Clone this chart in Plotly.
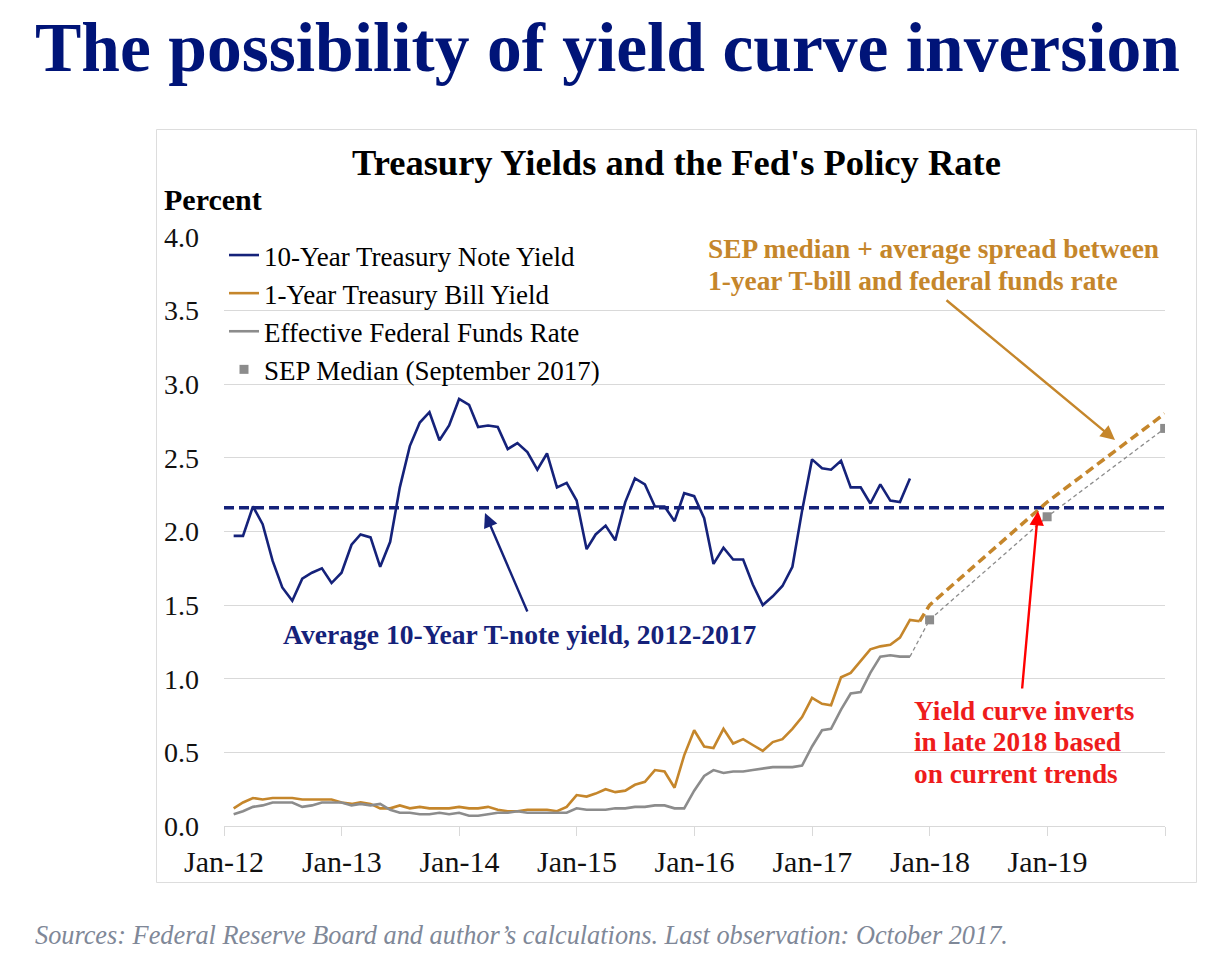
import numpy as np
import pandas as pd
import plotly.graph_objects as go

# ---------------- data ----------------
ten_year = [1.97, 1.97, 2.17, 2.05, 1.80, 1.62, 1.53, 1.68, 1.72, 1.75, 1.65, 1.72,
            1.91, 1.98, 1.96, 1.76, 1.93, 2.30, 2.58, 2.74, 2.81, 2.62, 2.72, 2.90,
            2.86, 2.71, 2.72, 2.71, 2.56, 2.60, 2.54, 2.42, 2.53, 2.30, 2.33, 2.21,
            1.88, 1.98, 2.04, 1.94, 2.20, 2.36, 2.32, 2.17, 2.17, 2.07, 2.26, 2.24,
            2.09, 1.78, 1.89, 1.81, 1.81, 1.64, 1.50, 1.56, 1.63, 1.76, 2.14, 2.49,
            2.43, 2.42, 2.48, 2.30, 2.30, 2.19, 2.32, 2.21, 2.20, 2.36]
one_year = [0.12, 0.16, 0.19, 0.18, 0.19, 0.19, 0.19, 0.18, 0.18, 0.18, 0.18, 0.16,
            0.15, 0.16, 0.15, 0.12, 0.12, 0.14, 0.12, 0.13, 0.12, 0.12, 0.12, 0.13,
            0.12, 0.12, 0.13, 0.11, 0.10, 0.10, 0.11, 0.11, 0.11, 0.10, 0.13, 0.21,
            0.20, 0.22, 0.25, 0.23, 0.24, 0.28, 0.30, 0.38, 0.37, 0.26, 0.48, 0.65,
            0.54, 0.53, 0.66, 0.56, 0.59, 0.55, 0.51, 0.57, 0.59, 0.66, 0.74, 0.87,
            0.83, 0.82, 1.01, 1.04, 1.12, 1.20, 1.22, 1.23, 1.28, 1.40, 1.39]
fed_funds = [0.08, 0.10, 0.13, 0.14, 0.16, 0.16, 0.16, 0.13, 0.14, 0.16, 0.16, 0.16,
             0.14, 0.15, 0.14, 0.15, 0.11, 0.09, 0.09, 0.08, 0.08, 0.09, 0.08, 0.09,
             0.07, 0.07, 0.08, 0.09, 0.09, 0.10, 0.09, 0.09, 0.09, 0.09, 0.09, 0.12,
             0.11, 0.11, 0.11, 0.12, 0.12, 0.13, 0.13, 0.14, 0.14, 0.12, 0.12, 0.24,
             0.34, 0.38, 0.36, 0.37, 0.37, 0.38, 0.39, 0.40, 0.40, 0.40, 0.41, 0.54,
             0.65, 0.66, 0.79, 0.90, 0.91, 1.04, 1.15, 1.16, 1.15, 1.15]
sep_dates = ["2017-12-31", "2018-12-31", "2019-12-31"]
sep_median = [1.4, 2.1, 2.7]
avg_spread = 0.1
tick_years = list(range(2012, 2021))
tick_labels = ["Jan-12", "Jan-13", "Jan-14", "Jan-15", "Jan-16", "Jan-17", "Jan-18", "Jan-19", ""]

# ---------------- derived ----------------
def month_ends(n):
    return pd.period_range("2012-01", periods=n, freq="M").to_timestamp(how="end").normalize()

d10 = month_ends(len(ten_year))
d1 = month_ends(len(one_year))
dff = month_ends(len(fed_funds))
avg10 = float(np.mean(ten_year))

proj1_x = [d1[-1]] + [pd.Timestamp(s) for s in sep_dates]
proj1_y = [one_year[-1]] + [v + avg_spread for v in sep_median]
projff_x = [dff[-1]] + [pd.Timestamp(s) for s in sep_dates]
projff_y = [fed_funds[-1]] + sep_median

NAVY = "#15227A"
ORANGE = "#C5862B"
GRAY = "#8C8C8C"
RED = "#EE1C1C"
FONT = "Liberation Serif"

fig = go.Figure()
fig.add_trace(go.Scatter(x=d10, y=ten_year, mode="lines", name="10-Year Treasury Note Yield",
                         line=dict(color=NAVY, width=2.6)))
fig.add_trace(go.Scatter(x=d1, y=one_year, mode="lines", name="1-Year Treasury Bill Yield",
                         line=dict(color=ORANGE, width=2.6)))
fig.add_trace(go.Scatter(x=dff, y=fed_funds, mode="lines", name="Effective Federal Funds Rate",
                         line=dict(color=GRAY, width=2.6)))
fig.add_trace(go.Scatter(x=projff_x, y=projff_y, mode="lines", showlegend=False,
                         line=dict(color=GRAY, width=1.3, dash="4px,3px")))
fig.add_trace(go.Scatter(x=[pd.Timestamp(s) for s in sep_dates], y=sep_median, mode="markers",
                         name="SEP Median (September 2017)",
                         marker=dict(color=GRAY, symbol="square", size=9)))
fig.add_trace(go.Scatter(x=[pd.Timestamp(f"{tick_years[0]}-01-01"), pd.Timestamp(f"{tick_years[-1]}-01-01")],
                         y=[avg10, avg10], mode="lines", showlegend=False,
                         line=dict(color=NAVY, width=3.5, dash="10px,5px")))
fig.add_trace(go.Scatter(x=proj1_x, y=proj1_y, mode="lines", showlegend=False,
                         line=dict(color=ORANGE, width=3.5, dash="9px,5px")))

# page has an 8px body margin; work in screen coordinates of the reference
OFF = 8
W, H = 1220 - OFF, 961 - OFF
L, R, T, B = 224, 1165, 237, 826   # plot area in screen px
def px(x):
    return (x - L) / (R - L)
def py(y):
    return (B - y) / (B - T)

ann = []
ann.append(dict(text="<b>The possibility of yield curve inversion</b>", x=px(33), y=py(47),
                xanchor="left", yanchor="middle", font=dict(family=FONT, size=69.5, color="#001478")))
ann.append(dict(text="<b>Treasury Yields and the Fed's Policy Rate</b>", x=px(676), y=py(163),
                xanchor="center", yanchor="middle", font=dict(family=FONT, size=36.5, color="black")))
ann.append(dict(text="<b>Percent</b>", x=px(162), y=py(200),
                xanchor="left", yanchor="middle", font=dict(family=FONT, size=30, color="black")))
ann.append(dict(text="<b>SEP median + average spread between</b>", x=px(706), y=py(248.5),
                xanchor="left", yanchor="middle", font=dict(family=FONT, size=27.4, color=ORANGE)))
ann.append(dict(text="<b>1-year T-bill and federal funds rate</b>", x=px(706), y=py(280.5),
                xanchor="left", yanchor="middle", font=dict(family=FONT, size=27.4, color=ORANGE)))
ann.append(dict(text="<b>Average 10-Year T-note yield, 2012-2017</b>", x=px(520), y=py(634.5),
                xanchor="center", yanchor="middle", font=dict(family=FONT, size=27.6, color=NAVY)))
for txt, yy in [("Yield curve inverts", 711), ("in late 2018 based", 742), ("on current trends", 773.5)]:
    ann.append(dict(text=f"<b>{txt}</b>", x=px(912), y=py(yy), xanchor="left", yanchor="middle",
                    font=dict(family=FONT, size=27.3, color=RED)))
ann.append(dict(text="<i>Sources: Federal Reserve Board and author\u2019s calculations. Last observation: October 2017.</i>",
                x=px(33), y=py(935), xanchor="left", yanchor="middle",
                font=dict(family=FONT, size=26.3, color="#7F8898")))
# arrows
for (tx, ty, ax, ay, col) in [(485, 513, 43, 100, NAVY), (1115, 440, -170, -141, ORANGE), (1038, 511, -16, 179, "#FF0000")]:
    ann.append(dict(text="", x=px(tx), y=py(ty), showarrow=True, arrowhead=2, arrowsize=1.2,
                    arrowwidth=2.4, arrowcolor=col, ax=ax, ay=ay, standoff=0))
for a in ann:
    a.setdefault("showarrow", False)
    a["xref"] = "paper"
    a["yref"] = "paper"

fig.update_layout(
    width=W, height=H,
    margin=dict(l=L - OFF, r=W - (R - OFF), t=T - OFF, b=H - (B - OFF)),
    paper_bgcolor="white", plot_bgcolor="white",
    font=dict(family=FONT, size=28, color="black"),
    annotations=ann,
    shapes=[dict(type="rect", xref="paper", yref="paper", x0=px(156.5), x1=px(1196.5),
                 y0=py(882.5), y1=py(129.5), line=dict(color="#DDDDDD", width=1), layer="below")],
    legend=dict(x=px(224), y=py(231), xanchor="left", yanchor="top", bgcolor="rgba(0,0,0,0)",
                font=dict(family=FONT, size=27, color="black"), itemwidth=30, tracegroupgap=0),
    showlegend=True,
)
fig.update_xaxes(type="date", range=["2012-01-01", "2020-01-01"],
                 tickvals=[f"{y}-01-01" for y in tick_years], ticktext=tick_labels,
                 ticks="outside", ticklen=9, tickcolor="#D9D9D9", showgrid=False,
                 showline=True, linecolor="#D9D9D9", linewidth=1,
                 tickfont=dict(family=FONT, size=30, color="#111111"))
fig.update_yaxes(range=[0, 4], dtick=0.5, tickformat=".1f", showgrid=True, gridcolor="#D9D9D9",
                 gridwidth=1, zeroline=False, ticks="", ticklabelstandoff=24,
                 tickfont=dict(family=FONT, size=28, color="#111111"))

fig.write_html("out.html")
